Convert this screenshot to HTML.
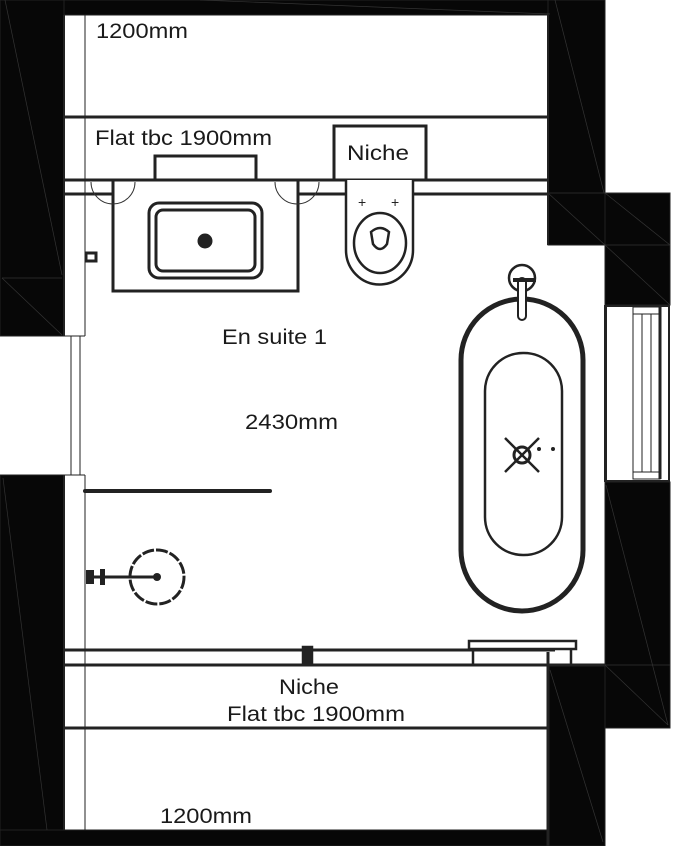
<!DOCTYPE html>
<html><head><meta charset="utf-8"><style>
html,body{margin:0;padding:0;background:#fff;}
svg{display:block;}
text{font-family:"Liberation Sans",sans-serif;fill:#1a1a1a;}
</style></head><body>
<svg width="698" height="846" viewBox="0 0 698 846" xmlns="http://www.w3.org/2000/svg">
<g fill="#070707" stroke="#222" stroke-width="1">
<rect x="0" y="0" width="548" height="15"/>
<rect x="0" y="0" width="64" height="336"/>
<rect x="0" y="475" width="64" height="371"/>
<rect x="548" y="0" width="57" height="245"/>
<rect x="605" y="193" width="65" height="112"/>
<rect x="605" y="482" width="65" height="246"/>
<rect x="548" y="665" width="57" height="181"/>
<rect x="0" y="830" width="548" height="16"/>
</g>
<g stroke="#333" stroke-width="0.7" fill="none">
<line x1="5" y1="0" x2="62" y2="275"/><line x1="2" y1="278" x2="62" y2="278"/><line x1="2" y1="278" x2="62" y2="335"/>
<line x1="3" y1="478" x2="47" y2="830"/>
<line x1="555" y1="0" x2="604" y2="193"/><line x1="548" y1="193" x2="670" y2="193"/><line x1="548" y1="193" x2="605" y2="245"/><line x1="605" y1="193" x2="670" y2="245"/><line x1="605" y1="245" x2="670" y2="245"/><line x1="605" y1="245" x2="670" y2="305"/>
<line x1="606" y1="485" x2="668" y2="725"/><line x1="605" y1="665" x2="670" y2="665"/><line x1="605" y1="665" x2="668" y2="725"/>
<line x1="550" y1="670" x2="603" y2="842"/>
<line x1="200" y1="0" x2="550" y2="14"/>
</g>
<g stroke="#222" fill="none">
<rect x="606" y="306" width="63" height="175" stroke-width="2"/>
<rect x="633" y="307" width="27" height="172" stroke-width="1"/>
<line x1="642" y1="314" x2="642" y2="472"/><line x1="651" y1="314" x2="651" y2="472"/>
<line x1="633" y1="314" x2="660" y2="314"/><line x1="633" y1="472" x2="660" y2="472"/>
<line x1="660" y1="307" x2="660" y2="479" stroke-width="3"/>
</g>
<g stroke="#222" fill="none">
<line x1="64" y1="15" x2="64" y2="336" stroke-width="2"/>
<line x1="85" y1="15" x2="85" y2="336" stroke-width="1"/>
<line x1="64" y1="336" x2="85" y2="336" stroke-width="1"/>
<line x1="71" y1="336" x2="71" y2="475" stroke-width="1"/><line x1="80" y1="336" x2="80" y2="475" stroke-width="1"/>
<line x1="64" y1="475" x2="85" y2="475" stroke-width="1"/>
<line x1="64" y1="475" x2="64" y2="830" stroke-width="2"/>
<line x1="85" y1="475" x2="85" y2="830" stroke-width="1"/>
<line x1="548" y1="15" x2="548" y2="245" stroke-width="2"/>
<line x1="605" y1="305" x2="605" y2="482" stroke-width="2"/>
<line x1="64" y1="117" x2="548" y2="117" stroke-width="3"/>
<line x1="64" y1="180" x2="548" y2="180" stroke-width="3"/>
<line x1="64" y1="194" x2="548" y2="194" stroke-width="3"/>
<line x1="64" y1="650" x2="555" y2="650" stroke-width="3"/>
<line x1="64" y1="665" x2="605" y2="665" stroke-width="3"/>
<line x1="64" y1="728" x2="548" y2="728" stroke-width="3"/>
<line x1="548" y1="652" x2="548" y2="846" stroke-width="3"/>
</g>
<g stroke="#222" fill="#fff">
<rect x="155" y="156" width="101" height="24" stroke-width="3"/>
<rect x="334" y="126" width="92" height="54" stroke-width="3"/>
<rect x="113" y="180" width="185" height="111" stroke-width="3"/>
<rect x="149" y="203" width="113" height="75" rx="10" stroke-width="3"/>
<rect x="156" y="210" width="99" height="61" rx="7" stroke-width="3"/>
<circle cx="205" cy="241" r="7" fill="#222"/>
</g>
<g stroke="#333" fill="none" stroke-width="1">
<path d="M91,182 A22,22 0 0 0 135,182"/><path d="M275,182 A22,22 0 0 0 319,182"/>
</g>
<rect x="86" y="253" width="10" height="8" fill="#fff" stroke="#222" stroke-width="3"/>
<g stroke="#222" fill="#fff" stroke-width="2.5">
<path d="M346,180 L346,250 A33,34 0 0 0 413,250 L413,180"/>
<ellipse cx="380" cy="243" rx="26" ry="30"/>
<path d="M371,232 Q380,224 389,232 L387,244 Q380,254 373,244 Z"/>
</g>
<g><text x="358" y="207" font-size="14" style="fill:#222">+</text><text x="391" y="207" font-size="14" style="fill:#222">+</text></g>
<g stroke="#222" fill="#fff">
<circle cx="522" cy="278" r="13" stroke-width="2.5"/>
<rect x="461" y="299" width="122" height="312" rx="61" stroke-width="5"/>
<rect x="485" y="353" width="77" height="202" rx="38" stroke-width="2.5"/>
<rect x="518" y="278" width="8" height="42" rx="4" stroke-width="2"/>
<line x1="513" y1="280" x2="536" y2="280" stroke-width="4"/>
<circle cx="522" cy="455" r="8" stroke-width="3"/>
<line x1="505" y1="438" x2="539" y2="472" stroke-width="2.5"/><line x1="539" y1="438" x2="505" y2="472" stroke-width="2.5"/>
<circle cx="539" cy="449" r="1.5" fill="#222"/><circle cx="553" cy="449" r="1.5" fill="#222"/>
</g>
<g stroke="#222" fill="none" stroke-width="2.5">
<rect x="469" y="641" width="107" height="8"/>
<line x1="473" y1="649" x2="473" y2="664"/><line x1="571" y1="649" x2="571" y2="664"/>
<rect x="303" y="647" width="9" height="16" fill="#222"/>
</g>
<line x1="85" y1="491" x2="270" y2="491" stroke="#222" stroke-width="4" stroke-linecap="round"/>
<circle cx="157" cy="577" r="27" fill="#fff" stroke="#222" stroke-width="3" stroke-dasharray="12 2"/>
<line x1="88" y1="577" x2="157" y2="577" stroke="#222" stroke-width="3"/>
<circle cx="157" cy="577" r="4" fill="#222"/>
<rect x="86" y="570" width="8" height="14" fill="#222"/><rect x="100" y="569" width="5" height="16" fill="#222"/>
<text x="96" y="38" font-size="21" textLength="92" lengthAdjust="spacingAndGlyphs">1200mm</text>
<text x="95" y="145" font-size="21" textLength="177" lengthAdjust="spacingAndGlyphs">Flat tbc 1900mm</text>
<text x="347" y="160" font-size="21" textLength="62" lengthAdjust="spacingAndGlyphs">Niche</text>
<text x="222" y="344" font-size="21" textLength="105" lengthAdjust="spacingAndGlyphs">En suite 1</text>
<text x="245" y="429" font-size="21" textLength="93" lengthAdjust="spacingAndGlyphs">2430mm</text>
<text x="279" y="694" font-size="21" textLength="60" lengthAdjust="spacingAndGlyphs">Niche</text>
<text x="227" y="721" font-size="21" textLength="178" lengthAdjust="spacingAndGlyphs">Flat tbc 1900mm</text>
<text x="160" y="823" font-size="21" textLength="92" lengthAdjust="spacingAndGlyphs">1200mm</text>
</svg>
</body></html>
